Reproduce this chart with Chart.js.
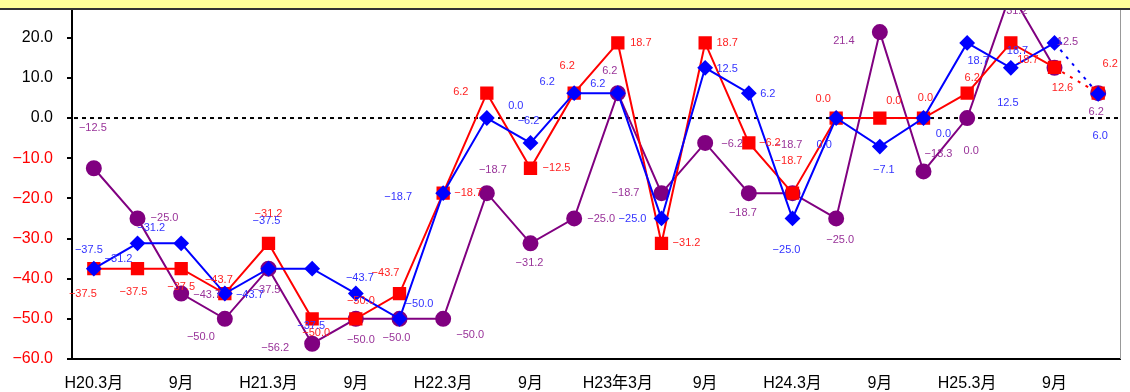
<!DOCTYPE html>
<html><head><meta charset="utf-8">
<script src="https://cdn.jsdelivr.net/npm/chart.js@4.4.0/dist/chart.umd.min.js"></script>
<style>html,body{margin:0;padding:0;background:#fff;}#wrap{width:1130px;height:392px;position:relative;overflow:hidden}</style>
</head><body><div id="wrap"><canvas id="c" width="1130" height="392"></canvas></div>
<script>
const categories = ['H20.3月','','9月','','H21.3月','','9月','','H22.3月','','9月','','H23年3月','','9月','','H24.3月','','9月','','H25.3月','','9月',''];
const seriesBlue = [-37.5,-31.2,-31.2,-43.7,-37.5,-37.5,-43.7,-50.0,-18.7,0.0,-6.2,6.2,6.2,-25.0,12.5,6.2,-25.0,0.0,-7.1,0.0,18.7,12.5,18.7,6.0];
const seriesRed = [-37.5,-37.5,-37.5,-43.7,-31.2,-50.0,-50.0,-43.7,-18.7,6.2,-12.5,6.2,18.7,-31.2,18.7,-6.2,-18.7,0.0,0.0,0.0,6.2,18.7,12.6,6.2];
const seriesPurple = [-12.5,-25.0,-43.7,-50.0,-37.5,-56.2,-50.0,-50.0,-50.0,-18.7,-31.2,-25.0,6.2,-18.7,-6.2,-18.7,-18.7,-25.0,21.4,-13.3,0.0,31.2,12.5,6.2];
const yTickValues = [20,10,0,-10,-20,-30,-40,-50,-60];

const FONT = '"Liberation Sans", Arial, "Noto Sans CJK JP", sans-serif';
const fmt = v => (v < 0 ? '\u2212' : '') + Math.abs(v).toFixed(1);

// label placement (offset from the point, in px)
const blueLabelPos = [[-5,-19],[-19,16],[-30,-15],[25,1],[-2,-48],[-1,57],[4,-16],[20,-15],[-45,4],[29,-12],[-2,-22],[-27,-11],[-20,-9],[-29,1],[22,1],[19,1],[-6,32],[-12,27],[4,23],[20,16],[11,18],[-3,35],[-37,8],[2,42]];
const redLabelPos = [[-11,25],[-4,23],[0,18],[-6,-14],[0,-29],[4,14],[5,-18],[-14,-21],[25,0],[-26,-1],[26,0],[-7,-27],[23,0],[25,0],[22,0],[21,0],[-4,-32],[-13,-19],[14,-17],[2,-20],[5,-15],[17,17],[8,21],[12,-29]];
const purpleLabelPos = [[-1,-40],[27,0],[26,1],[-24,18],[-2,21],[-37,4],[5,21],[-3,19],[27,16],[6,-23],[-1,20],[27,1],[-8,-22],[-36,0],[27,1],[-6,20],[-4,-48],[4,22],[-36,9],[15,-17],[4,33],[6,18],[13,-26],[-2,19]];

const labelPlugin = {
  id: 'valueLabels',
  afterDatasetsDraw(chart) {
    const ctx = chart.ctx;
    for (let di = chart.data.datasets.length - 1; di >= 0; di--) {
      const ds = chart.data.datasets[di];
      const meta = chart.getDatasetMeta(di);
      ctx.save();
      ctx.font = '11px ' + FONT;
      ctx.fillStyle = ds.labelColor;
      ctx.textAlign = 'center';
      ctx.textBaseline = 'middle';
      meta.data.forEach((pt, i) => {
        const off = ds.labelPos[i];
        ctx.fillText(fmt(ds.data[i]), pt.x + off[0], pt.y + off[1]);
      });
      ctx.restore();
    }
  }
};

const framePlugin = {
  id: 'frame',
  beforeDatasetsDraw(chart) {
    const {ctx, chartArea} = chart;
    const y0 = chart.scales.y.getPixelForValue(0);
    ctx.save();
    ctx.strokeStyle = '#000';
    ctx.lineWidth = 2;
    ctx.setLineDash([4, 4]);
    ctx.beginPath();
    ctx.moveTo(chartArea.left + 2, y0);
    ctx.lineTo(chartArea.right, y0);
    ctx.stroke();
    ctx.restore();
  },
  afterDraw(chart) {
    const {ctx, chartArea} = chart;
    ctx.save();
    ctx.fillStyle = '#FFFF99';
    ctx.fillRect(0, 0, chart.width, 9);
    ctx.fillStyle = '#333333';
    ctx.fillRect(0, 8, chart.width, 2);
    ctx.strokeStyle = '#999999';
    ctx.lineWidth = 1;
    ctx.beginPath();
    ctx.moveTo(chartArea.right + 0.5, 10);
    ctx.lineTo(chartArea.right + 0.5, chartArea.bottom);
    ctx.stroke();
    ctx.restore();
  }
};

new Chart(document.getElementById('c'), {
  type: 'line',
  data: {
    labels: categories,
    datasets: [
      {
        data: seriesBlue, borderColor: '#0000FF', backgroundColor: '#0000FF',
        pointStyle: 'rectRot', pointRadius: 6.5, pointHoverRadius: 6.5, borderWidth: 2,
        labelColor: '#3333FF', labelPos: blueLabelPos, clip: false,
        segment: { borderDash: c => c.p1DataIndex === 23 ? [3, 6] : undefined }
      },
      {
        data: seriesRed, borderColor: '#FF0000', backgroundColor: '#FF0000',
        pointStyle: 'rect', pointRadius: 8, pointHoverRadius: 8, borderWidth: 2,
        labelColor: '#FF2222', labelPos: redLabelPos, clip: false,
        segment: { borderDash: c => c.p1DataIndex === 23 ? [3, 6] : undefined }
      },
      {
        data: seriesPurple, borderColor: '#800080', backgroundColor: '#800080',
        pointStyle: 'circle', pointRadius: 7, pointHoverRadius: 7, borderWidth: 2,
        labelColor: '#993399', labelPos: purpleLabelPos, clip: false,
        segment: { borderColor: c => c.p1DataIndex === 23 ? 'rgba(0,0,0,0)' : undefined }
      }
    ]
  },
  options: {
    responsive: false,
    animation: false,
    events: [],
    layout: { padding: { top: 0, right: 2, left: 0, bottom: 0 } },
    elements: { line: { tension: 0 } },
    plugins: { legend: { display: false }, tooltip: { enabled: false }, title: { display: false } },
    scales: {
      x: {
        offset: true,
        grid: { drawOnChartArea: false, drawTicks: false },
        border: { display: true, color: '#000', width: 2 },
        ticks: { autoSkip: false, maxRotation: 0, minRotation: 0, padding: 15, color: '#000', font: { size: 16, family: FONT } },
        afterFit: s => { s.height = 33; }
      },
      y: {
        min: -60, max: 26.9,
        afterBuildTicks: s => { s.ticks = yTickValues.map(v => ({ value: v })); },
        afterFit: s => { s.width = 72; s.paddingTop = 0; },
        grid: { drawOnChartArea: false, drawTicks: true, tickLength: 5, color: '#000', lineWidth: 2 },
        border: { display: true, color: '#000', width: 2 },
        ticks: {
          padding: 14,
          color: c => (c.tick && c.tick.value < 0) ? '#FF0000' : '#000000',
          font: { size: 16, family: FONT },
          callback: v => fmt(v)
        }
      }
    }
  },
  plugins: [framePlugin, labelPlugin]
});
</script>
</body></html>
